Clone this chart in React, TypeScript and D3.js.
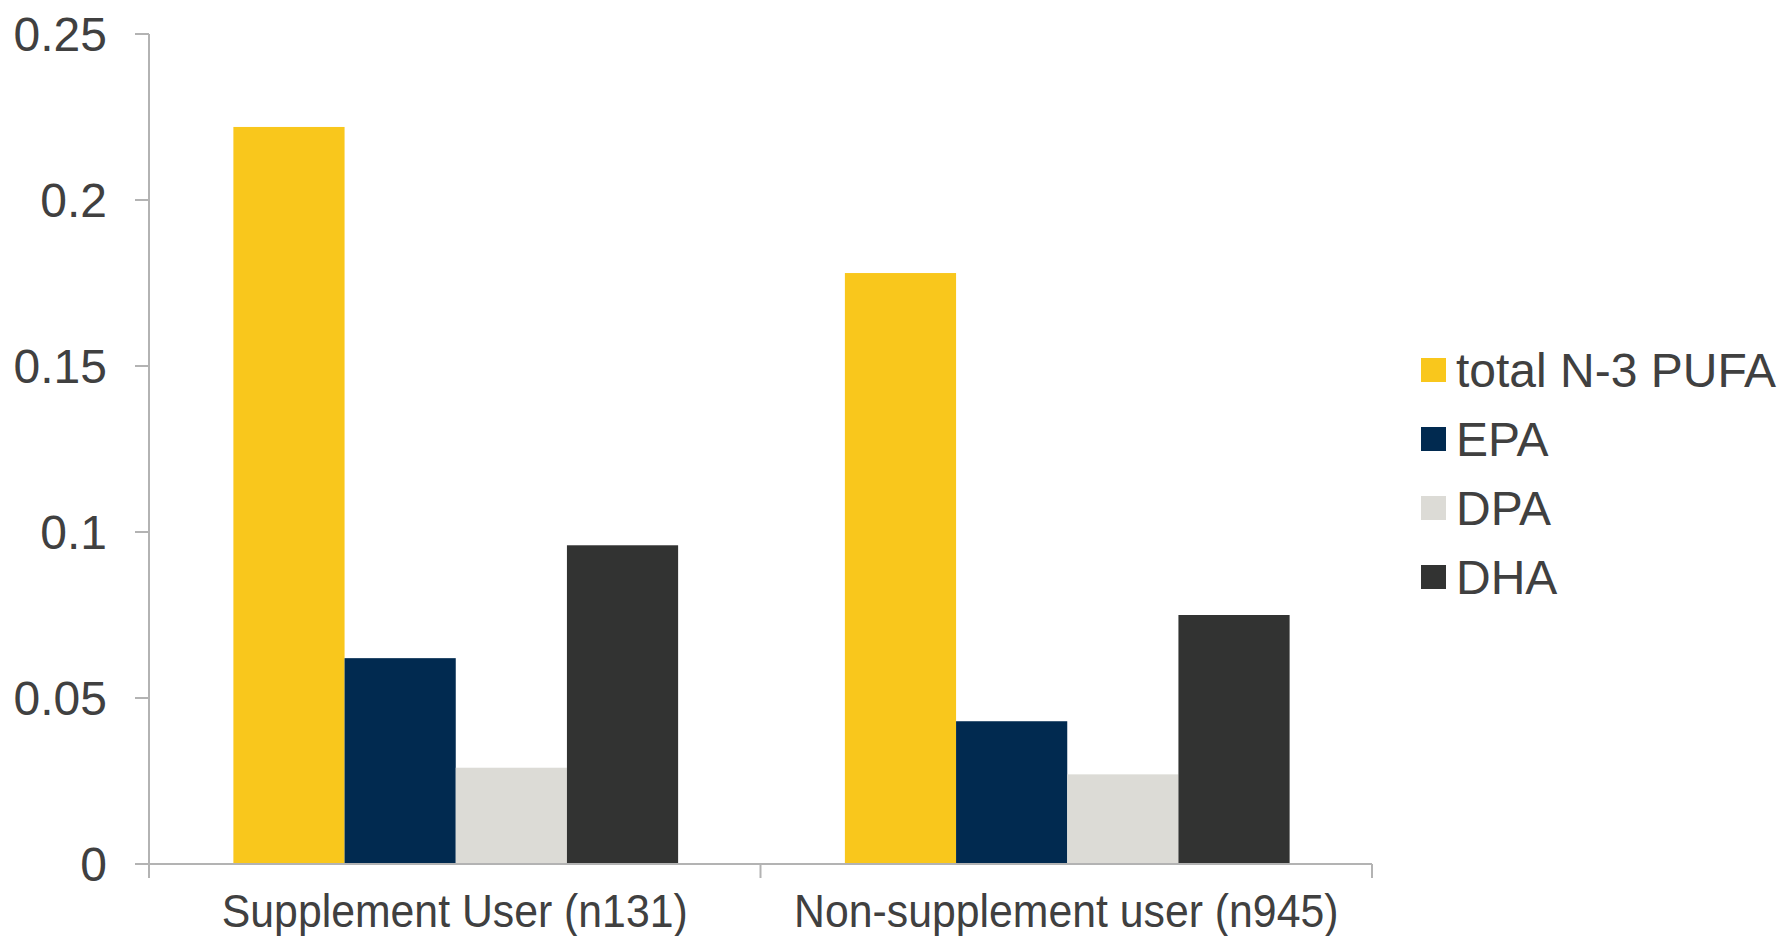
import React from "react";
import * as d3 from "d3";

// Omega-3 fatty acid levels by supplement use
const categories = ["Supplement User (n131)", "Non-supplement user (n945)"];
const seriesNames = ["total N-3 PUFA", "EPA", "DPA", "DHA"];
const supplementUser = [0.222, 0.062, 0.029, 0.096];
const nonSupplementUser = [0.178, 0.043, 0.027, 0.075];
const seriesColors = ["#F9C71C", "#012A50", "#DCDBD6", "#323332"];
const yTicks = [0, 0.05, 0.1, 0.15, 0.2, 0.25];
const yTickLabels = ["0", "0.05", "0.1", "0.15", "0.2", "0.25"];

const rows = [supplementUser, nonSupplementUser];

const W = 1785;
const H = 936;
const left = 149;
const right = 1372;
const top = 34;
const bottom = 864;
const axisColor = "#B3B3B3";
const textColor = "#404040";
const font = "'Liberation Sans', Arial, Helvetica, sans-serif";

export default function App() {
  const y = d3.scaleLinear().domain([0, 0.25]).range([bottom, top]);
  const x0 = d3.scaleBand<string>().domain(categories).range([left, right]).paddingInner(0).paddingOuter(0);
  const x1 = d3
    .scaleBand<string>()
    .domain(seriesNames)
    .range([0, x0.bandwidth()])
    .paddingInner(0)
    .paddingOuter(0.75);

  const xTickPositions = [left, ...categories.map((c) => (x0(c) as number) + x0.bandwidth())];

  return (
    <svg
      width={W}
      height={H}
      style={{ position: "absolute", left: 0, top: 0, background: "#fff" }}
      fontFamily={font}
    >
      {/* bars */}
      {categories.map((cat, ci) => (
        <g key={cat} transform={`translate(${(x0(cat) as number) + 1},0)`}>
          {seriesNames.map((s, si) => (
            <rect
              key={s}
              x={x1(s)}
              y={y(rows[ci][si])}
              width={x1.bandwidth()}
              height={y(0) - y(rows[ci][si])}
              fill={seriesColors[si]}
            />
          ))}
        </g>
      ))}

      {/* y axis */}
      <line x1={left} x2={left} y1={y(0.25)} y2={y(0)} stroke={axisColor} strokeWidth={2} />
      {yTicks.map((t, i) => (
        <g key={t}>
          <line x1={left - 14} x2={left} y1={y(t)} y2={y(t)} stroke={axisColor} strokeWidth={2} />
          <text
            x={107}
            y={y(t)}
            textAnchor="end"
            dominantBaseline="central"
            fontSize={48}
            fill={textColor}
          >
            {yTickLabels[i]}
          </text>
        </g>
      ))}

      {/* x axis */}
      <line x1={left - 14} x2={right} y1={y(0)} y2={y(0)} stroke={axisColor} strokeWidth={2} />
      {xTickPositions.map((px, i) => (
        <line key={i} x1={px} x2={px} y1={y(0)} y2={y(0) + 14} stroke={axisColor} strokeWidth={2} />
      ))}
      {categories.map((cat) => {
        const cx = (x0(cat) as number) + x0.bandwidth() / 2;
        return (
          <text
            key={cat}
            transform={`translate(${cx},927) scale(0.93,1)`}
            textAnchor="middle"
            fontSize={46}
            fill={textColor}
          >
            {cat}
          </text>
        );
      })}

      {/* legend */}
      {seriesNames.map((s, i) => {
        const cy = 370 + i * 69;
        return (
          <g key={s}>
            <rect x={1421} y={cy - 12} width={25} height={24} fill={seriesColors[i]} />
            <text x={1456} y={cy} dominantBaseline="central" fontSize={48} fill={textColor}>
              {s}
            </text>
          </g>
        );
      })}
    </svg>
  );
}
